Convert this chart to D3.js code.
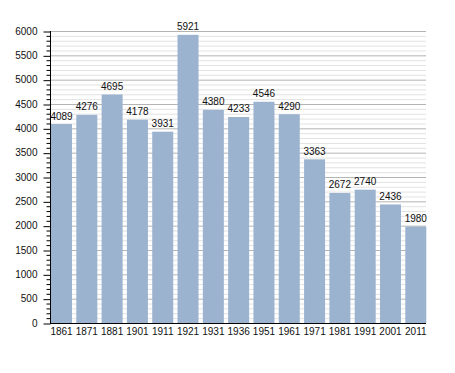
<!DOCTYPE html>
<html><head><meta charset="utf-8">
<script src="https://cdn.jsdelivr.net/npm/d3@7"></script>
<style>body{margin:0;background:#fff;} svg{display:block;} text{font-family:"Liberation Sans",Arial,sans-serif;}</style>
</head><body>
<svg id="c" width="455" height="373"></svg>
<script>
const years = ["1861","1871","1881","1901","1911","1921","1931","1936","1951","1961","1971","1981","1991","2001","2011"];
const population = [4089,4276,4695,4178,3931,5921,4380,4233,4546,4290,3363,2672,2740,2436,1980];
const yMajorTicks = [0,500,1000,1500,2000,2500,3000,3500,4000,4500,5000,5500,6000];

const svg = d3.select("#c");
const x = d3.scaleBand().domain(years).range([51, 426.3]).paddingInner(0.17).paddingOuter(0).align(0);
const y = d3.scaleLinear().domain([0, 6000]).range([323, 31]);
const minor = d3.range(0, 6001, 100).filter(v => v % 500 !== 0);

// grid
svg.append("g").selectAll("line").data(minor).join("line")
  .attr("x1", 51).attr("x2", 426).attr("y1", d => y(d) + 0.5).attr("y2", d => y(d) + 0.5)
  .attr("stroke", "#e2e2e2").attr("stroke-width", 1);
svg.append("g").selectAll("line").data(yMajorTicks.filter(d => d > 0)).join("line")
  .attr("x1", 51).attr("x2", 426).attr("y1", d => y(d) + 0.5).attr("y2", d => y(d) + 0.5)
  .attr("stroke", "#b4b4b4").attr("stroke-width", 1);

// bars
svg.append("g").selectAll("rect").data(population).join("rect")
  .attr("x", (d, i) => x(years[i])).attr("width", x.bandwidth())
  .attr("y", d => y(d)).attr("height", d => y(0) - y(d))
  .attr("fill", "#9bb3cf");

// value labels
svg.append("g").selectAll("text").data(population).join("text")
  .attr("x", (d, i) => x(years[i]) + x.bandwidth() / 2).attr("y", d => y(d) - 4.5)
  .attr("text-anchor", "middle").attr("font-size", 10).attr("fill", "#111")
  .text(d => d);

// y axis
const yAxis = svg.append("g").attr("transform", "translate(50.5,0)");
yAxis.call(d3.axisLeft(y).tickValues(yMajorTicks).tickSize(7).tickPadding(6).tickFormat(d3.format("d")));
yAxis.selectAll(".tick line").attr("transform", "translate(0,0.5)");
yAxis.selectAll("text").attr("font-size", 10).attr("font-family", "Liberation Sans, Arial, sans-serif").attr("fill", "#111");
yAxis.select(".domain").attr("d", `M0,${y(6000)}V${y(0)}`);
yAxis.append("g").selectAll("line").data(minor).join("line")
  .attr("x1", -4).attr("x2", 0).attr("y1", d => y(d) + 0.5).attr("y2", d => y(d) + 0.5)
  .attr("stroke", "#000");

// x axis
const xAxis = svg.append("g").attr("transform", `translate(0,${y(0) + 0.5})`);
xAxis.call(d3.axisBottom(x).tickSize(0).tickPadding(4.5));
xAxis.select(".domain").attr("d", "M50,0H426");
xAxis.selectAll("text").attr("font-size", 10).attr("font-family", "Liberation Sans, Arial, sans-serif").attr("fill", "#111");
</script>
</body></html>
